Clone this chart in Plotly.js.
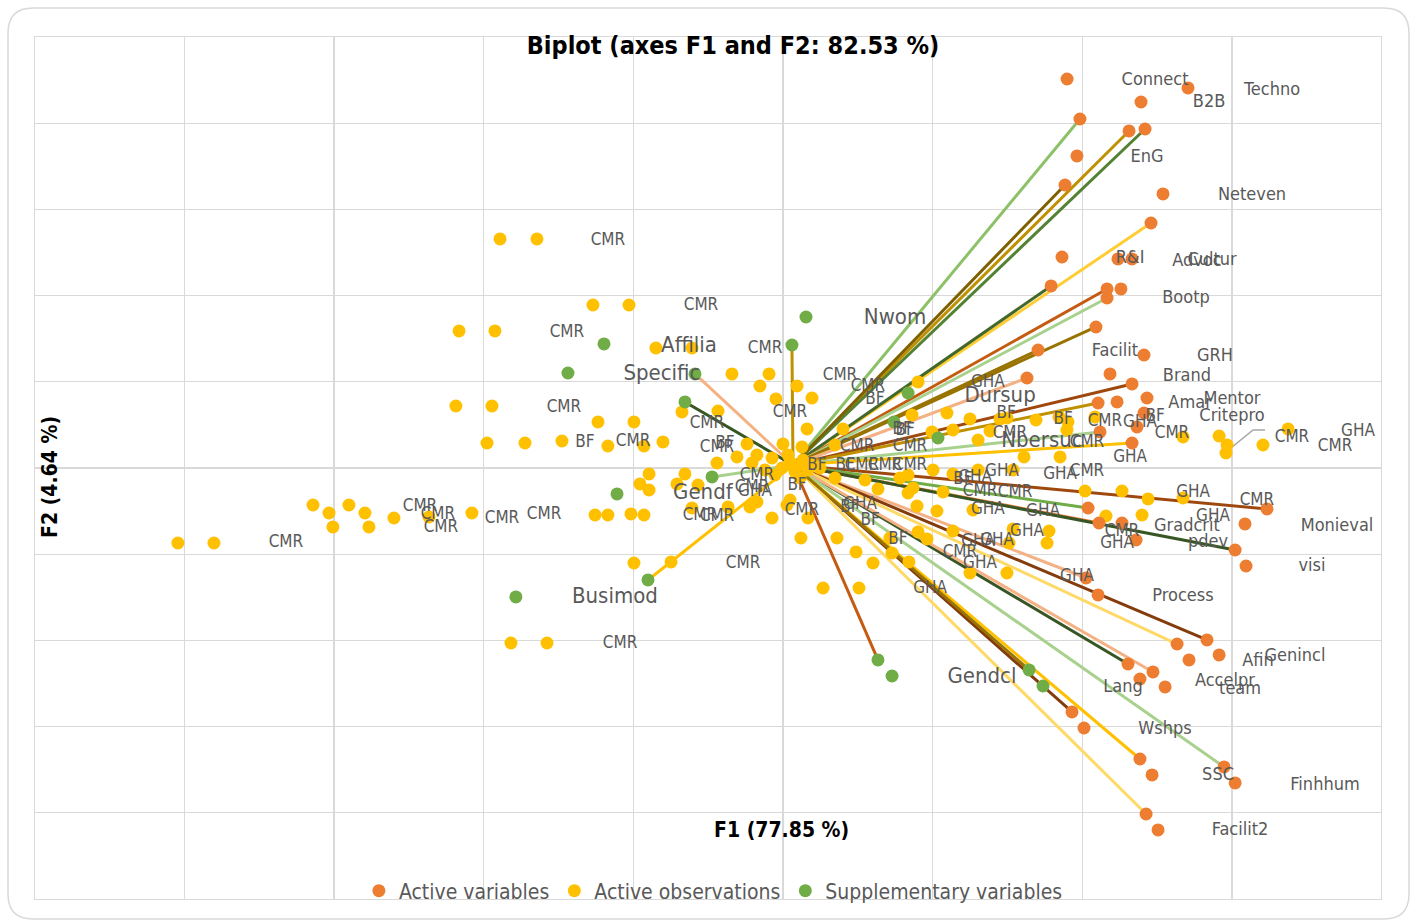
<!DOCTYPE html>
<html>
<head>
<meta charset="utf-8">
<script src="https://cdn.plot.ly/plotly-3.0.1.min.js"></script>
<style>html,body{margin:0;padding:0;background:#fff;}#chart{width:1413px;height:924px;}</style>
</head>
<body>
<div id="chart"></div>
<script>
// ---------- Active variables (F1, F2) ----------
const varX = [18.32,26.40,23.26,19.18,22.46,23.53,18.98,18.18,24.73,23.93,17.98,21.72,22.66,17.25,20.99,21.92,20.99,20.25,16.38,23.46,21.19,15.64,22.66,23.66,21.66,20.39,23.46,22.99,20.52,22.66,31.68,30.21,29.55,30.28,19.72,20.45,21.99,22.93,19.59,20.39,27.67,25.67,28.48,26.47,22.39,24.06,23.19,24.87,18.65,19.45,23.19,24.00,28.81,29.55,23.60,24.40];
const varY = [44.78,43.74,42.11,40.14,38.75,38.98,35.85,32.48,31.44,28.07,24.13,23.90,23.90,20.77,20.42,20.42,19.37,16.01,13.34,12.76,10.56,10.09,9.40,7.77,7.31,7.19,6.03,4.41,3.83,2.55,-5.10,-6.84,-9.86,-11.72,-4.99,-6.73,-6.73,-8.70,-13.11,-15.08,-20.30,-20.77,-22.04,-22.62,-23.09,-24.01,-24.83,-25.75,-28.65,-30.51,-34.11,-35.96,-35.03,-36.89,-40.49,-42.34];

// ---------- Active observations (F1, F2) ----------
const obsX = [-19.58,-17.11,-13.37,-10.96,-22.32,-19.92,-9.16,-6.75,-22.53,-20.12,-13.03,-10.63,-20.45,-17.91,-15.44,-12.37,-9.96,-8.69,-7.42,
 -41.11,-38.70,-32.08,-31.01,-29.68,-28.61,-30.75,-28.34,-26.67,-24.33,-21.46,-13.23,-12.37,-10.83,-9.96,-10.63,-8.15,-18.85,-16.44,
 -4.08,-1.60,-2.21,0.27,-1.14,1.27,-5.01,-3.07,-2.41,-5.08,-3.74,-2.74,-0.67,0.60,0.94,3.34,-1.40,-9.62,-7.22,-10.23,-7.75,-9.62,-6.35,
 -6.75,-4.34,-2.87,-2.41,-0.40,-0.20,-1.40,1.00,0.53,2.94,4.21,5.35,6.62,7.75,8.36,8.96,10.69,11.83,2.01,4.41,2.81,4.81,5.68,7.15,7.69,
 8.02,7.69,8.29,10.03,9.62,12.03,10.29,11.83,10.69,12.37,7.95,8.36,9.36,10.69,12.37,14.71,2.81,6.48,9.29,13.17,13.84,14.30,16.24,17.78,
 18.38,20.19,18.31,15.44,17.85,14.71,17.11,16.98,14.44,19.52,21.99,23.73,20.92,23.33,14.30,26.07,28.48,29.01,28.94,31.41,33.09,26.07,
 -0.20,0.27,0.67,1.00,0.13,-0.74,1.27,-0.33,-1.87,-1.20,0.47,1.80];
const obsY = [26.22,26.22,18.56,18.56,15.55,15.55,13.57,13.57,6.84,6.84,4.99,4.99,2.55,2.55,2.78,2.20,2.20,2.67,6.15,
 -9.05,-9.05,-4.64,-5.57,-4.64,-5.57,-7.19,-7.19,-6.15,-6.03,-5.57,-5.80,-5.80,-5.68,-5.80,-11.37,-11.25,-20.65,-20.65,
 10.56,10.56,9.16,9.16,7.66,7.77,6.26,2.44,1.16,0.23,0.93,0.23,2.44,2.09,4.18,4.18,0.81,-1.04,-1.04,-2.20,-2.20,-2.90,-2.32,
 -4.99,-4.87,-4.87,-4.29,-4.64,-4.06,-6.15,-6.15,-8.47,-8.47,-10.09,-11.37,-10.21,-11.25,-7.77,-8.58,-7.66,-12.53,-14.27,-14.27,-1.51,-1.74,-2.78,-1.51,-1.16,
 -2.67,-3.25,-4.76,-3.13,-5.34,-5.22,6.03,5.34,4.06,2.90,5.80,9.63,-0.58,-1.04,-0.58,-0.58,2.32,-8.47,3.83,3.94,5.34,5.45,5.22,5.57,
 4.99,5.57,4.06,0.93,0.93,-7.42,-7.66,-9.05,-9.05,-3.02,-3.02,-3.94,-5.92,-5.80,-12.53,3.25,3.36,2.32,1.39,2.32,4.18,-3.83,
 0.35,-0.12,0.58,-0.58,-0.81,-0.35,0.23,1.16,-0.58,-1.16,-1.51,-0.35];

// ---------- Supplementary variables (F1, F2) ----------
const supX = [0.87,-0.07,-12.63,-15.04,-6.55,-7.22,-5.41,-11.76,-9.69,-18.52,7.69,6.75,9.69,5.68,6.62,15.78,16.71];
const supY = [17.17,13.92,14.04,10.67,10.56,7.31,-1.39,-3.36,-13.34,-15.31,8.35,4.99,3.13,-22.62,-24.48,-23.78,-25.64];

// ---------- Vectors drawn from the origin ----------
const vecX = [19.18,22.46,23.53,18.18,23.93,17.25,20.99,20.99,20.25,16.38,15.64,22.66,20.39,20.52,22.66,31.68,19.72,20.45,29.55,19.59,27.67,25.67,22.39,24.06,28.81,18.65,23.19,23.60,-0.07,-6.55,-7.22,-5.41,-9.69,5.68,15.78];
const vecY = [40.14,38.75,38.98,32.48,28.07,20.77,20.42,19.37,16.01,13.34,10.09,9.40,7.19,3.83,2.55,-5.10,-4.99,-6.73,-9.86,-13.11,-20.30,-20.77,-23.09,-24.01,-35.03,-28.65,-34.11,-40.49,13.92,10.56,7.31,-1.39,-13.34,-22.62,-23.78];
const vecColor = ['#8CC168','#BF9000','#548235','#7F6000','#FFCD33','#43682B','#C55A11','#A9D18E','#997300','#997300','#F4B183','#9E480E','#BF9000','#A9D18E','#FFC000','#9E480E','#70AD47','#ED7D31','#375623','#F4B183','#843C0C','#FFD966','#375623','#F4B183','#A9D18E','#843C0C','#FFC000','#FFD966','#BF9000','#F4B183','#375623','#A9D18E','#FFC000','#C55A11','#997300'];

// ---------- Labels ----------
const varLabText = ['Connect','Techno','B2B','EnG','Neteven','R&I','Advoc','Cultur','Bootp','Facilit','GRH','Brand','Amar','Mentor','Critepro','Monieval','Gradcrit','pdev','visi','Process','Afin','Genincl','Accelpr','team','Lang','Wshps','SSC','Finhhum','Facilit2'];
const varLabX = [24.20,32.02,27.81,23.66,30.68,22.53,27.00,28.01,26.27,21.52,28.21,26.33,26.54,29.34,29.34,36.36,26.33,27.74,34.69,26.07,31.08,33.55,28.87,29.88,22.06,24.86,28.41,35.56,29.88];
const varLabY = [44.55,43.50,42.00,35.62,31.21,24.01,23.55,23.78,19.26,13.11,12.53,10.32,7.19,7.54,5.57,-7.08,-7.08,-9.05,-11.83,-15.31,-22.74,-22.27,-25.06,-25.99,-25.87,-30.74,-36.08,-37.24,-42.46];

const supLabText = ['Nwom','Affilia','Specific','Gendf','Busimod','Gendcl','Dursup','Nbersuc'];
const supLabX = [6.82,-6.95,-8.76,-6.02,-11.90,12.63,13.84,16.64];
const supLabY = [17.05,13.69,10.44,-3.36,-15.43,-24.71,8.00,2.78];

const obsLabText = ['CMR','CMR','CMR','CMR','CMR','BF','CMR','CMR','CMR','BF','CMR','CMR','BF','CMR','CMR','CMR','BF','CMR','CMR','GHA','BF','CMR','CMR','CMR','GHA','BF','BF','BF','CMR','GHA','GHA','GHA','CMR','CMR','CMR','CMR','CMR','CMR','CMR','CMR',
 'GHA','BF','BF','BF','CMR','GHA','CMR','CMR','CMR','GHA','GHA','CMR','GHA','CMR','GHA','CMR','GHA','CMR','GHA','CMR','GHA','GHA','GHA','GHA','GHA','BF','BF','CMR','CMR','CMR','GHA','BF','CMR','CMR','GHA','BF'];
const obsLabX = [-12.37,-6.15,-15.11,-1.87,-15.31,-13.90,-10.69,3.14,5.01,5.48,-0.20,-5.75,-4.55,-5.08,4.28,7.82,7.49,-2.41,-2.74,-2.54,0.27,0.60,-6.22,-5.08,4.48,3.81,5.15,7.02,11.16,12.37,12.50,9.16,-3.34,-24.93,-23.73,-23.53,-19.45,-16.64,-33.89,-11.56,
 13.03,14.24,18.05,24.20,20.85,23.19,25.33,14.50,19.65,22.53,17.85,19.65,13.97,33.35,37.76,36.23,26.74,31.01,28.07,21.99,21.66,16.71,15.64,13.64,18.98,1.60,3.48,4.61,6.15,7.82,12.17,11.36,12.50,14.84,13.03,7.29];
const obsLabY = [25.99,18.45,15.31,13.46,6.61,2.55,2.67,10.32,9.05,7.54,6.03,4.76,2.44,1.97,2.09,2.09,3.94,-1.28,-2.67,-3.13,-2.44,-5.34,-5.92,-6.03,-4.64,-4.99,-6.50,-8.70,-10.21,-8.93,-11.48,-14.39,-11.48,-4.87,-5.80,-7.31,-6.26,-5.80,-9.05,-20.77,
 9.51,5.92,5.22,5.57,4.99,4.87,3.60,3.60,2.55,0.81,-1.16,-0.81,-0.81,3.13,3.83,2.09,-3.25,-4.18,-6.03,-7.77,-9.16,-5.45,-7.77,-8.82,-12.99,-0.12,-0.12,-0.12,-0.12,-0.12,-1.51,-1.74,-3.13,-3.25,-5.22,4.06];

// leader line for the Critepro label
const leadX = [28.94,30.75,31.55];
const leadY = [1.51,4.06,4.06];

const FONT = "'Liberation Sans Narrow','DejaVu Sans Condensed',Roboto,sans-serif";
const GRAY = '#595959';

const traces = [];
for (let i = 0; i < vecX.length; i++) {
  traces.push({x:[0, vecX[i]], y:[0, vecY[i]], mode:'lines', type:'scatter',
    line:{color:vecColor[i], width:3}, showlegend:false, hoverinfo:'skip'});
}
traces.push({x:leadX, y:leadY, mode:'lines', type:'scatter', line:{color:'#A6A6A6', width:1.5}, showlegend:false, hoverinfo:'skip'});
traces.push({x:obsX, y:obsY, mode:'markers', type:'scatter', name:'Active observations', legendrank:2,
  marker:{color:'#FFC000', size:13}});
traces.push({x:varX, y:varY, mode:'markers', type:'scatter', name:'Active variables', legendrank:1,
  marker:{color:'#ED7D31', size:13}});
traces.push({x:supX, y:supY, mode:'markers', type:'scatter', name:'Supplementary variables', legendrank:3,
  marker:{color:'#70AD47', size:13}});
traces.push({x:obsLabX, y:obsLabY, text:obsLabText, mode:'text', type:'scatter', textposition:'middle center',
  textfont:{family:FONT, size:17, color:GRAY}, showlegend:false, hoverinfo:'skip'});
traces.push({x:varLabX, y:varLabY, text:varLabText, mode:'text', type:'scatter', textposition:'middle center',
  textfont:{family:FONT, size:18, color:GRAY}, showlegend:false, hoverinfo:'skip'});
traces.push({x:supLabX, y:supLabY, text:supLabText, mode:'text', type:'scatter', textposition:'middle center',
  textfont:{family:FONT, size:22, color:GRAY}, showlegend:false, hoverinfo:'skip'});

// rounded outer border (paper coordinates)
const bx0=-0.02006, bx1=1.02080, by0=-0.02320, by1=1.03364, rx=0.0186, ry=0.029;
const borderPath = `M ${bx0+rx},${by1} L ${bx1-rx},${by1} Q ${bx1},${by1} ${bx1},${by1-ry} L ${bx1},${by0+ry} Q ${bx1},${by0} ${bx1-rx},${by0} L ${bx0+rx},${by0} Q ${bx0},${by0} ${bx0},${by0+ry} L ${bx0},${by1-ry} Q ${bx0},${by1} ${bx0+rx},${by1} Z`;

const layout = {
  width:1413, height:924,
  margin:{l:35, r:32, t:37, b:25, pad:0},
  paper_bgcolor:'#ffffff', plot_bgcolor:'#ffffff',
  font:{family:FONT, color:GRAY},
  title:{text:'<b>Biplot (axes F1 and F2: 82.53 %)</b>', font:{family:FONT, size:25, color:'#000000'},
    x:0.5186, xref:'paper', xanchor:'center', y:0.951, yref:'container', yanchor:'middle'},
  xaxis:{range:[-50.66, 39.30], tick0:-0.668, dtick:10, showticklabels:false, ticks:'',
    showgrid:true, gridcolor:'#D9D9D9', gridwidth:1.3, zeroline:false,
    showline:true, mirror:true, linecolor:'#D9D9D9', linewidth:1.3, title:{text:''}},
  yaxis:{range:[-50.35, 49.65], tick0:-0.348, dtick:10, showticklabels:false, ticks:'',
    showgrid:true, gridcolor:'#D9D9D9', gridwidth:1.3, zeroline:false,
    showline:true, mirror:true, linecolor:'#D9D9D9', linewidth:1.3, title:{text:''}},
  showlegend:true,
  legend:{orientation:'h', x:0.504, xanchor:'center', y:0.0093, yanchor:'middle',
    bgcolor:'rgba(0,0,0,0)', font:{family:FONT, size:21, color:GRAY}, itemwidth:30, traceorder:'normal'},
  annotations:[
    {text:'<b>F1 (77.85 %)</b>', xref:'paper', yref:'paper', x:(781-35)/1346, y:(899-830)/862,
      showarrow:false, font:{family:FONT, size:21, color:'#000000'}, xanchor:'center', yanchor:'middle'},
    {text:'<b>F2 (4.64 %)</b>', xref:'paper', yref:'paper', x:(50-35)/1346, y:(899-477)/862, textangle:-90,
      showarrow:false, font:{family:FONT, size:21, color:'#000000'}, xanchor:'center', yanchor:'middle'}
  ],
  shapes:[{type:'path', xref:'paper', yref:'paper', path:borderPath, line:{color:'#D9D9D9', width:1.5}, fillcolor:'rgba(0,0,0,0)'}]
};

Plotly.newPlot('chart', traces, layout, {displayModeBar:false, staticPlot:true});
</script>
</body>
</html>
